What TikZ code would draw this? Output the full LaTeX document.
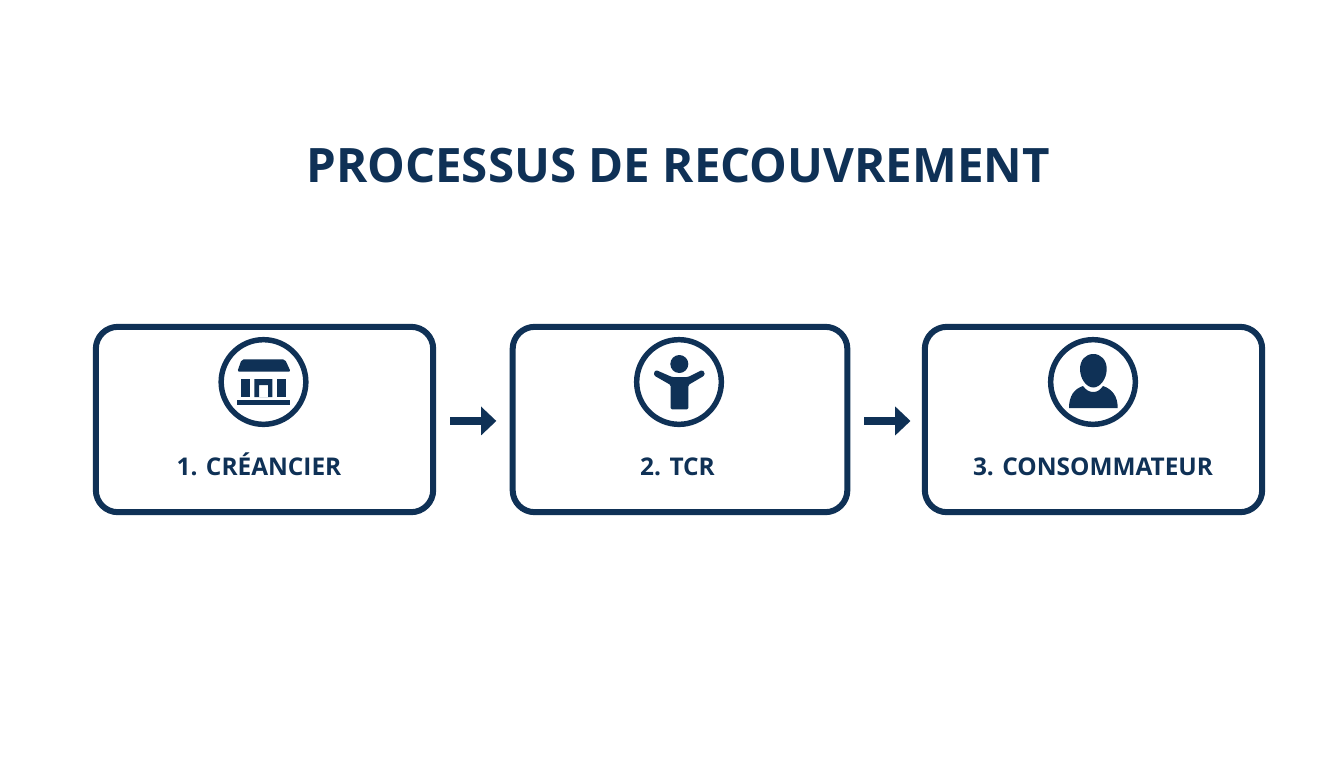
\documentclass[tikz,border=0pt]{standalone}
\usepackage{fontspec}
\setmainfont{Open Sans}
\usetikzlibrary{arrows.meta}
\definecolor{navy}{HTML}{0F3156}
\tikzset{
  card/.style={draw=navy,line width=4.5pt,rounded corners=16.5pt,inner sep=0pt},
  ring/.style={circle,draw=navy,line width=4.1pt,inner sep=0pt,minimum size=63.5pt},
  flow/.style={draw=navy,line width=6pt,-{Triangle[length=11.5pt,width=21pt]}},
  ink/.style={fill=navy,draw=none},
  titletext/.style={text=navy,anchor=base,font=\bfseries\fontsize{35.6pt}{40pt}\selectfont},
  cardtext/.style={text=navy,anchor=base,font=\bfseries\fontsize{18.3pt}{20pt}\selectfont}
}
\begin{document}
\begin{tikzpicture}[x=0.75pt,y=-0.75pt]
\useasboundingbox (0,0) rectangle (1344,768);
\fill[white] (0,0) rectangle (1344,768);
\node[titletext] (title) at (678,182) {PROCESSUS DE RECOUVREMENT};
\node[card,minimum width=253pt,minimum height=139pt] (c1) at (264.5,419.5) {};
\node[card,minimum width=251pt,minimum height=139pt] (c2) at (680,419.5) {};
\node[card,minimum width=253pt,minimum height=139pt] (c3) at (1093.5,419.5) {};
\node[ring] (r1) at (263.5,382) {};
\node[ring] (r2) at (679,382) {};
\node[ring] (r3) at (1093,382) {};
\node[cardtext] (l1) at (259,475) {1. CRÉANCIER};
\node[cardtext] (l2) at (677.5,475) {2. TCR};
\node[cardtext] (l3) at (1093,475) {3. CONSOMMATEUR};
\draw[flow,shorten <=10.5pt,shorten >=10pt] ([yshift=-1.1pt]c1.east) -- ([yshift=-1.1pt]c2.west);
\draw[flow,shorten <=10.5pt,shorten >=8.5pt] ([yshift=-1.1pt]c2.east) -- ([yshift=-1.1pt]c3.west);
% store icon
\fill[ink,rounded corners=1.5pt] (241.7,359.3) -- (285,359.3) -- (290.7,371.7) -- (237.3,371.7) -- cycle;
\fill[ink] (241,379) rectangle (250,397);
\fill[ink] (277.3,379) rectangle (286,397);
\fill[ink,even odd rule] (254.3,379) rectangle (272.3,397) (259,385) rectangle (268,397);
\fill[ink] (237.3,400) rectangle (290,404.7);
% open-arms figure
\fill[ink] (679.3,364) circle[radius=9];
\fill[ink,rounded corners=1pt] (670.7,409.3) -- (670.7,385) -- (654,375.5) -- (654,372) -- (656,370) -- (672,377) -- (688,377) -- (702,370) -- (704.5,372) -- (704.5,375.5) -- (688.3,385) -- (688.3,409.3) -- cycle;
% bust icon
\fill[ink] (1093.3,354) .. controls (1101,354) and (1106.7,360) .. (1106.7,369) .. controls (1106.7,379) and (1100,387.5) .. (1093.3,387.5) .. controls (1086.6,387.5) and (1080,379) .. (1080,369) .. controls (1080,360) and (1085.6,354) .. (1093.3,354) -- cycle;
\fill[ink] (1069,408) .. controls (1069,396) and (1074,389) .. (1083,386) .. controls (1086,390) and (1089,392) .. (1093.3,392) .. controls (1097.5,392) and (1100,390) .. (1103,386) .. controls (1112,389) and (1117.7,396) .. (1117.7,408) -- cycle;
\end{tikzpicture}
\end{document}
